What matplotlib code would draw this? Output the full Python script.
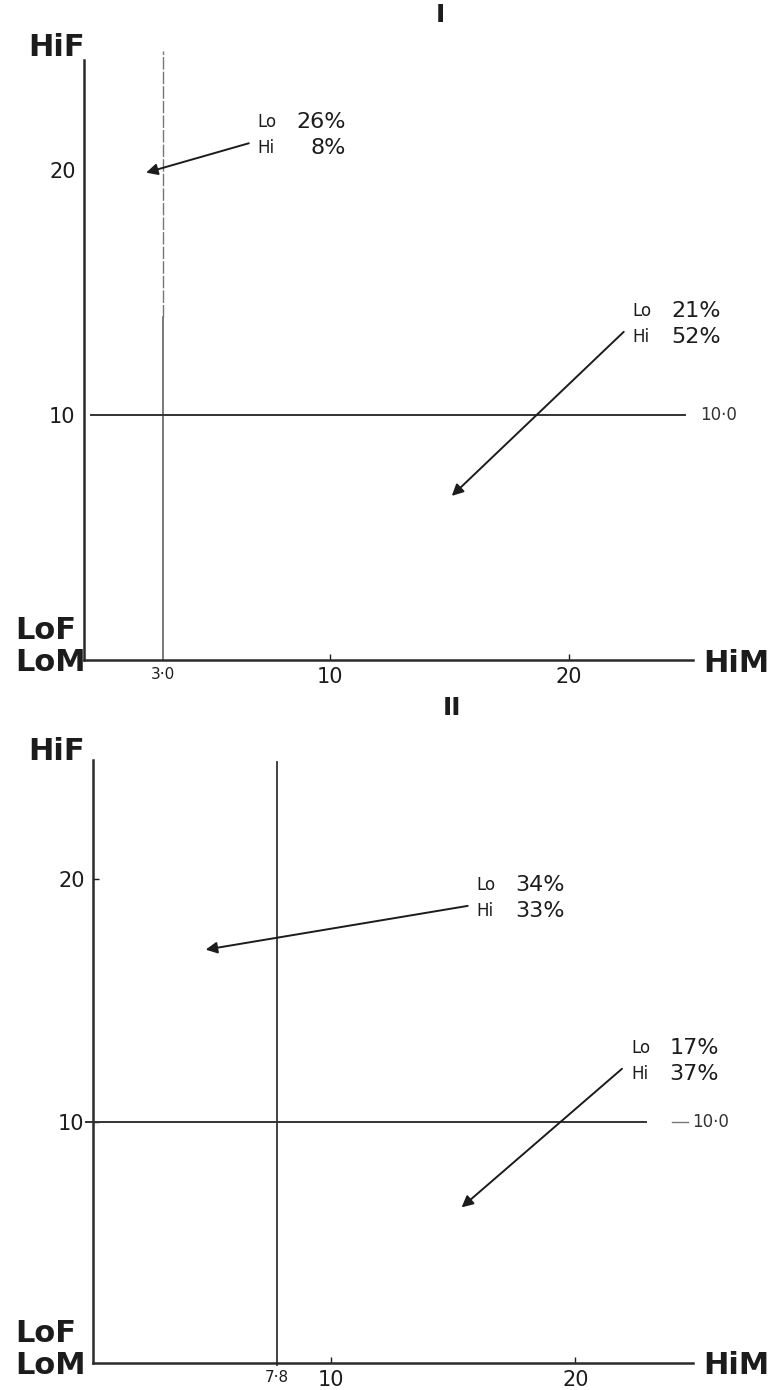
import matplotlib

matplotlib.use("Agg")
import matplotlib.pyplot as plt
from matplotlib.transforms import offset_copy

plt.rcParams["font.family"] = ["DejaVu Sans"]

# panel I
cut_x_1 = 3.0
cut_y_1 = 10.0
tail_x_1 = [6.6, 22.3]
tail_y_1 = [21.1, 13.4]
head_x_1 = [2.3, 15.1]
head_y_1 = [19.9, 6.7]
lo_pct_1 = [26, 21]
hi_pct_1 = [8, 52]

# panel II
cut_x_2 = 7.8
cut_y_2 = 10.0
tail_x_2 = [15.6, 21.9]
tail_y_2 = [18.9, 12.2]
head_x_2 = [4.9, 15.35]
head_y_2 = [17.1, 6.5]
lo_pct_2 = [34, 17]
hi_pct_2 = [33, 37]

x_ticks = [10, 20]
y_ticks = [10, 20]

INK = "#1c1c1c"
W, H = 777, 1390


def px_rect(x0, y0, x1, y1):
    # pixel box (top-left origin) -> figure fraction rect
    return [x0 / W, 1 - y1 / H, (x1 - x0) / W, (y1 - y0) / H]


def draw_panel(fig, rect, xlim, ylim, cut_x, cut_y, cut_top, hline_end, label_x,
               tail_x, tail_y, head_x, head_y, lo_pct, hi_pct,
               ytick_len, dashed_top, stub=None):
    ax = fig.add_axes(rect)
    ax.set_xlim(*xlim)
    ax.set_ylim(*ylim)
    for side in ("top", "right"):
        ax.spines[side].set_visible(False)
    for side in ("left", "bottom"):
        ax.spines[side].set_linewidth(1.8)
        ax.spines[side].set_color("#2a2a2a")

    ax.set_xticks([cut_x] + x_ticks)
    ax.set_xticklabels([f"{cut_x:.1f}".replace(".", "·")] + [str(t) for t in x_ticks])
    ax.set_yticks(y_ticks)
    ax.set_yticklabels([str(t) for t in y_ticks])
    ax.tick_params(axis="x", direction="in", length=4, width=1, pad=5,
                   labelsize=15, colors=INK)
    ax.tick_params(axis="y", direction="in", length=ytick_len, width=1, pad=6,
                   labelsize=15, colors=INK)
    ax.get_xticklabels()[0].set_fontsize(11)
    ax.xaxis.get_major_ticks()[0].tick1line.set_visible(False)

    # cut-off lines
    if dashed_top is None:
        ax.plot([cut_x, cut_x], [0, cut_top], color="#333333", lw=1.3, clip_on=False)
    else:
        ax.plot([cut_x, cut_x], [0, dashed_top], color="#555555", lw=1.1, clip_on=False)
        ax.plot([cut_x, cut_x], [dashed_top, cut_top], color="#777777", lw=1.0,
                ls=(0, (9, 1.5)), clip_on=False)
    ax.plot([0, hline_end], [cut_y, cut_y], color="#333333", lw=1.4, clip_on=False)
    if stub is not None:
        ax.plot(stub, [cut_y, cut_y], color="#777777", lw=1.0, clip_on=False)
    ax.text(label_x, cut_y, f"{cut_y:.1f}".replace(".", "·"), fontsize=12,
            color="#333333", ha="left", va="center")

    for tx, ty, hx, hy, lo, hi in zip(tail_x, tail_y, head_x, head_y, lo_pct, hi_pct):
        ax.annotate("", xy=(hx, hy), xytext=(tx, ty),
                    arrowprops=dict(arrowstyle="-|>", mutation_scale=17, lw=1.4,
                                    color=INK, shrinkA=0, shrinkB=0),
                    annotation_clip=False)
        for dy, tag, val in ((21, "Lo", lo), (-5, "Hi", hi)):
            ax.text(tx, ty, tag, fontsize=12, color=INK, ha="left", va="center",
                    transform=offset_copy(ax.transData, fig=fig, x=9, y=dy, units="dots"))
            ax.text(tx, ty, f"{val}%", fontsize=16, color=INK, ha="right", va="center",
                    transform=offset_copy(ax.transData, fig=fig, x=97, y=dy, units="dots"))
    return ax


fig = plt.figure(figsize=(W / 100, H / 100), dpi=100)
fig.patch.set_facecolor("white")

draw_panel(fig, px_rect(84, 60, 693, 660), (-0.3, 25.2), (0.0, 24.5),
           cut_x_1, cut_y_1, 24.85, 24.85, 25.5,
           tail_x_1, tail_y_1, head_x_1, head_y_1, lo_pct_1, hi_pct_1,
           ytick_len=0, dashed_top=14.0)
draw_panel(fig, px_rect(93, 760, 693, 1363), (0.3, 24.8), (0.1, 24.9),
           cut_x_2, cut_y_2, 24.8, 22.9, 24.75,
           tail_x_2, tail_y_2, head_x_2, head_y_2, lo_pct_2, hi_pct_2,
           ytick_len=4, dashed_top=None, stub=[23.95, 24.6])

# corner labels and panel numbers
corner = dict(fontsize=22, fontweight="bold", color=INK)
for top, bottom_axis in ((48, 660), (752, 1363)):
    fig.text(28 / W, 1 - top / H, "HiF", ha="left", va="center", **corner)
    fig.text(15 / W, 1 - (bottom_axis - 30) / H, "LoF", ha="left", va="center", **corner)
    fig.text(15 / W, 1 - (bottom_axis + 2) / H, "LoM", ha="left", va="center", **corner)
    fig.text(703 / W, 1 - (bottom_axis + 3) / H, "HiM", ha="left", va="center", **corner)

fig.text(440 / W, 1 - 15 / H, "I", ha="center", va="center", fontsize=18,
         fontweight="bold", color=INK)
fig.text(452 / W, 1 - 708 / H, "II", ha="center", va="center", fontsize=18,
         fontweight="bold", color=INK)

fig.savefig("out.png", dpi=100, facecolor="white")
